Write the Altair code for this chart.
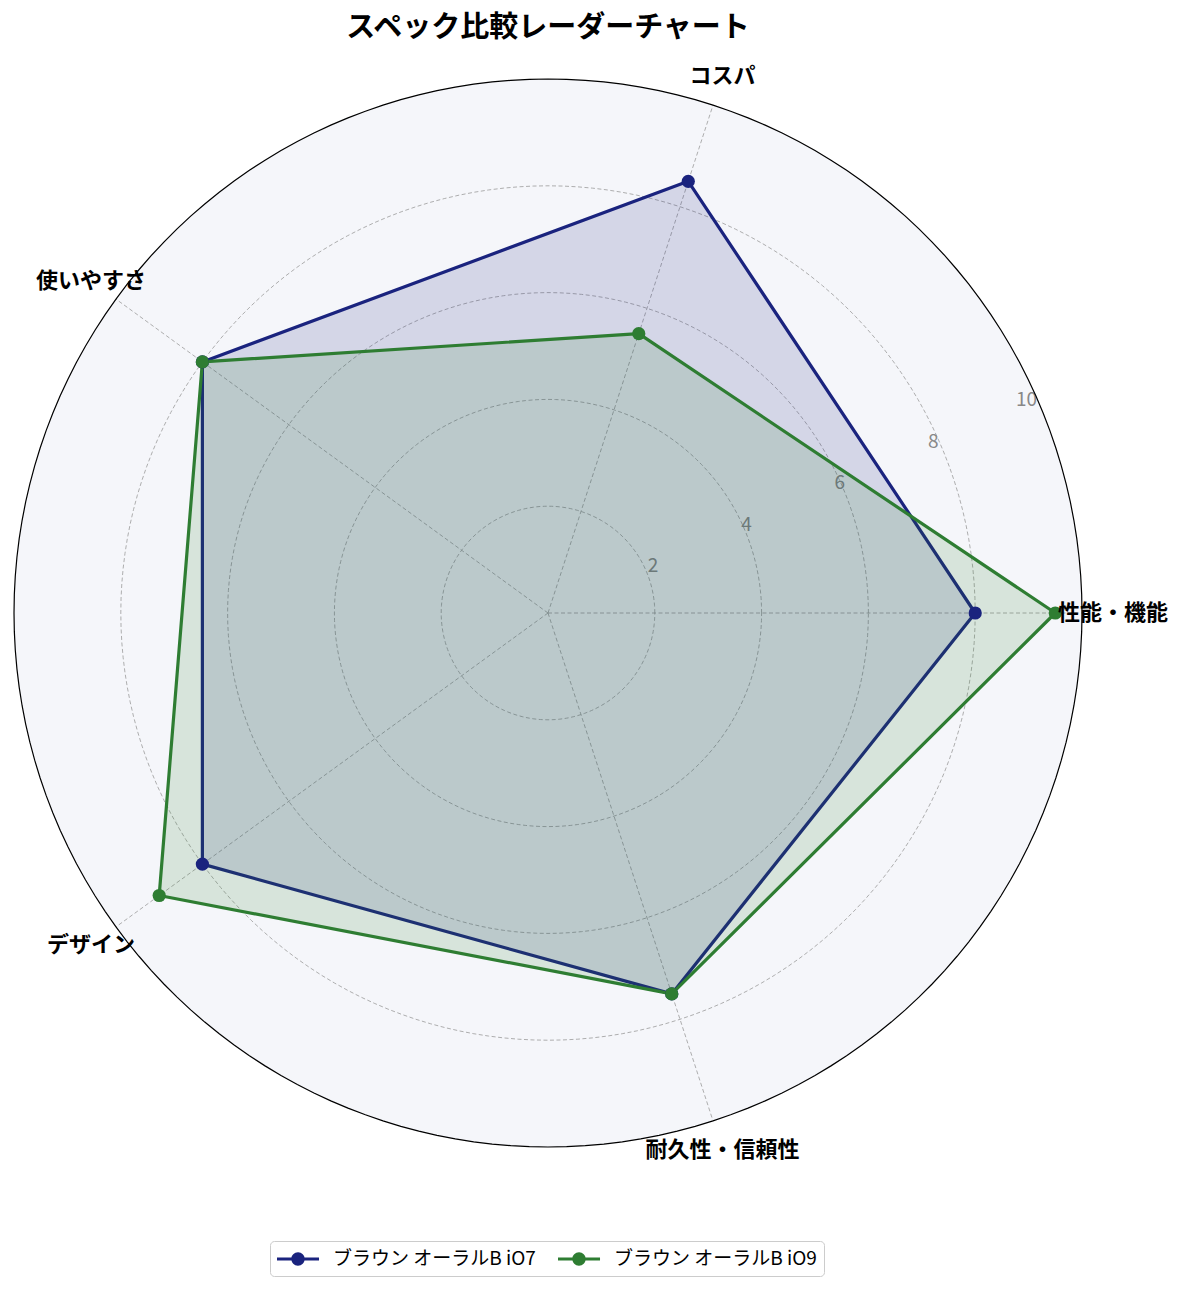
import altair as alt
import pandas as pd

# ---------------- data ----------------
categories = ["性能・機能", "コスパ", "使いやすさ", "デザイン", "耐久性・信頼性"]
series_names = ["ブラウン オーラルB iO7", "ブラウン オーラルB iO9"]
values_io7 = [8.0, 8.5, 8.0, 8.0, 7.5]
values_io9 = [9.5, 5.5, 8.0, 9.0, 7.5]
ring_values = [2, 4, 6, 8]
tick_values = [2, 4, 6, 8, 10]
r_max = 10
title_text = "スペック比較レーダーチャート"

# ---------------- style ----------------
colors = ["#1A237E", "#2E7D32"]
FONT = "Noto Sans CJK JP"
BG = "#F5F6FA"
GRID = "#9a9a9a"
n = len(categories)

rows = []
for s, vals in zip(series_names, [values_io7, values_io9]):
    for k in range(n + 1):
        i = k % n
        rows.append({"series": s, "category": categories[i], "idx": i, "order": k, "value": vals[i]})
df = pd.DataFrame(rows)

spoke_rows = []
for i, c in enumerate(categories):
    spoke_rows.append({"category": c, "idx": i, "r": 0})
    spoke_rows.append({"category": c, "idx": i, "r": r_max})
spokes_df = pd.DataFrame(spoke_rows)

degs = list(range(0, 361, 2))
rings_data = alt.Data(values=[{"r": r, "deg": degs} for r in ring_values])
outer_data = alt.Data(values=[{"r": r_max, "deg": degs}])

ticks_df = pd.DataFrame({"v": tick_values, "label": [str(t) for t in tick_values]})
cats_df = pd.DataFrame({"category": categories, "idx": list(range(n))})

ANG = f"datum.idx * 2 * PI / {n}"

xs = alt.Scale(domain=[-10.1124, 10.1124], nice=False, zero=False)
ys = alt.Scale(domain=[-11.554, 10.2996], nice=False, zero=False)
X = alt.X("x:Q", scale=xs, axis=None)
Y = alt.Y("y:Q", scale=ys, axis=None)

ser_scale = alt.Scale(domain=series_names, range=colors)

# background disc
disc = (
    alt.Chart(outer_data)
    .transform_flatten(["deg"])
    .transform_calculate(x="datum.r * cos(datum.deg * PI / 180)", y="datum.r * sin(datum.deg * PI / 180)")
    .mark_line(fill=BG, strokeWidth=0)
    .encode(x=X, y=Y, order="deg:Q")
)

rings = (
    alt.Chart(rings_data)
    .transform_flatten(["deg"])
    .transform_calculate(x="datum.r * cos(datum.deg * PI / 180)", y="datum.r * sin(datum.deg * PI / 180)")
    .mark_line(color=GRID, strokeWidth=0.8, strokeDash=[4, 2.5])
    .encode(x=X, y=Y, order="deg:Q", detail="r:Q")
)

spokes = (
    alt.Chart(spokes_df)
    .transform_calculate(x=f"datum.r * cos({ANG})", y=f"datum.r * sin({ANG})")
    .mark_line(color=GRID, strokeWidth=0.8, strokeDash=[4, 2.5])
    .encode(x=X, y=Y, detail="category:N", order="r:Q")
)

tick_labels = (
    alt.Chart(ticks_df)
    .transform_calculate(
        rr="datum.v * 0.957 + 0.24",
        x="datum.rr * cos(24 * PI / 180)",
        y="datum.rr * sin(24 * PI / 180)",
    )
    .mark_text(font=FONT, fontSize=19, color="#888888", align="center", baseline="middle")
    .encode(x=X, y=Y, text="label:N")
)

# one polygon (fill + outline) per series, in series order
polys = []
for s, c in zip(series_names, colors):
    polys.append(
        alt.Chart(df)
        .transform_filter(alt.datum.series == s)
        .transform_calculate(x=f"datum.value * cos({ANG})", y=f"datum.value * sin({ANG})")
        .mark_line(fill=c, fillOpacity=0.15, stroke=c, strokeWidth=3.2, strokeJoin="round")
        .encode(x=X, y=Y, order="order:Q")
    )

legend_path = (
    "M-1,-0.145L2.82,-0.145L2.82,0.145L-1,0.145Z "
    "M1.52,0A0.61,0.61,0,1,1,0.30,0A0.61,0.61,0,1,1,1.52,0Z"
)

points = (
    alt.Chart(df)
    .transform_filter(f"datum.order < {n}")
    .transform_calculate(x=f"datum.value * cos({ANG})", y=f"datum.value * sin({ANG})")
    .mark_circle(size=175, opacity=1)
    .encode(
        x=X,
        y=Y,
        color=alt.Color(
            "series:N",
            scale=ser_scale,
            title=None,
            legend=alt.Legend(
                orient="none",
                legendX=262,
                legendY=1178,
                direction="horizontal",
                symbolType=legend_path,
                symbolSize=484,
                symbolStrokeWidth=0,
                symbolOpacity=1,
                labelOffset=34,
                columnPadding=22,
                padding=7,
                labelFont=FONT,
                labelFontSize=19,
                labelColor="black",
                labelLimit=400,
                strokeColor="#cccccc",
                fillColor="white",
                cornerRadius=4,
            ),
        ),
    )
)

outer = (
    alt.Chart(outer_data)
    .transform_flatten(["deg"])
    .transform_calculate(x="datum.r * cos(datum.deg * PI / 180)", y="datum.r * sin(datum.deg * PI / 180)")
    .mark_line(color="black", strokeWidth=1.2)
    .encode(x=X, y=Y, order="deg:Q")
)

cat_labels = (
    alt.Chart(cats_df)
    .transform_calculate(x=f"10.58 * cos({ANG})", y=f"10.58 * sin({ANG})")
    .mark_text(font=FONT, fontSize=22, fontWeight="bold", color="black", align="center", baseline="middle")
    .encode(x=X, y=Y, text="category:N")
)

chart = (
    alt.layer(disc, rings, spokes, tick_labels, *polys, points, outer, cat_labels)
    .properties(
        width=1080,
        height=1167,
        autosize=alt.AutoSizeParams(type="none"),
        padding={"left": 0, "top": 55, "right": 89, "bottom": 50},
        title=alt.Title(
            title_text,
            font=FONT,
            fontSize=29,
            fontWeight="bold",
            color="black",
            anchor="middle",
            frame="group",
            offset=20,
        ),
    )
    .configure_view(strokeWidth=0)
)

chart.save("out.html", embed_options={"renderer": "svg", "actions": False})
